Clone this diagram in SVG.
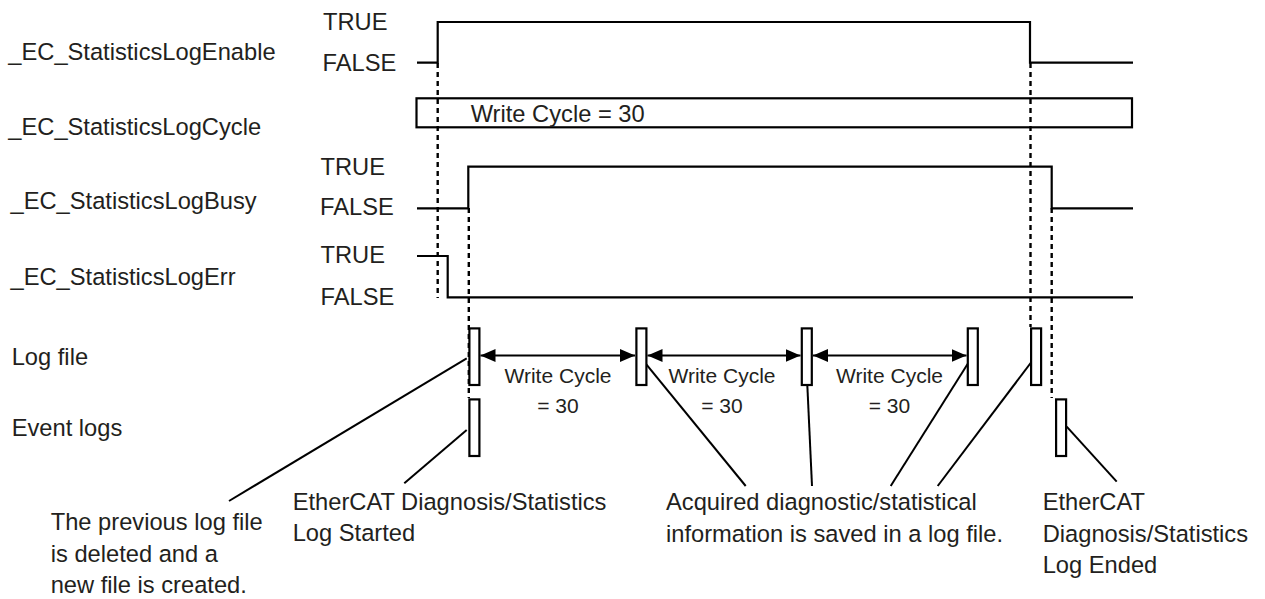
<svg xmlns="http://www.w3.org/2000/svg" width="1265" height="599" viewBox="0 0 1265 599">
<style>
text{font-family:"Liberation Sans",Arial,sans-serif;font-size:23.7px;fill:#231f20}
.sm{font-size:21px}
.sig{fill:none;stroke:#000;stroke-width:2.2}
.box{fill:#fff;stroke:#000;stroke-width:2.2}
.dash{fill:none;stroke:#000;stroke-width:2.4;stroke-dasharray:5 4}
.lead{fill:none;stroke:#000;stroke-width:2}
.arr{fill:none;stroke:#000;stroke-width:2.2;marker-start:url(#ah);marker-end:url(#ah)}
</style>
<defs>
<marker id="ah" markerUnits="userSpaceOnUse" markerWidth="16" markerHeight="14" refX="15" refY="6.5" orient="auto-start-reverse">
<path d="M0,0 L15,6.5 L0,13 z" fill="#000"/>
</marker>
</defs>
<rect width="1265" height="599" fill="#fff"/>
<g id="labels">
<text x="8.3" y="60">_EC_StatisticsLogEnable</text>
<text x="8.3" y="135">_EC_StatisticsLogCycle</text>
<text x="10.5" y="208.5">_EC_StatisticsLogBusy</text>
<text x="10.5" y="285">_EC_StatisticsLogErr</text>
<text x="11.7" y="365">Log file</text>
<text x="11.7" y="436">Event logs</text>
</g>
<g id="enable">
<text x="323" y="30">TRUE</text>
<text x="322.5" y="70.5">FALSE</text>
<path class="sig" d="M417,62.7 H437.7 V22 H1030 V62.7 H1133"/>
</g>
<g id="cycle">
<rect class="sig" x="416.5" y="98.3" width="715.5" height="29"/>
<text x="470.7" y="121.5">Write Cycle = 30</text>
</g>
<g id="busy">
<text x="320.5" y="175">TRUE</text>
<text x="320" y="215">FALSE</text>
<path class="sig" d="M417,208.3 H468.3 V166.7 H1051.7 V208.3 H1133"/>
</g>
<g id="err">
<text x="320.5" y="262.7">TRUE</text>
<text x="320.5" y="305">FALSE</text>
<path class="sig" d="M417,256 H447.7 V297.3 H1133"/>
</g>
<g id="connectors">
<path class="dash" d="M437.7,63 V298"/>
<path class="dash" d="M468.8,208 V398"/>
<path class="dash" d="M1030.5,63 V327"/>
<path class="dash" d="M1051.7,208 V398"/>
<path class="arr" d="M480.5,355.5 H635"/>
<path class="arr" d="M647.5,355.5 H800.5"/>
<path class="arr" d="M813,355.5 H966.5"/>
<path class="lead" d="M466.7,358.3 L229,501"/>
<path class="lead" d="M466.7,430 L404.3,483.3"/>
<path class="lead" d="M640,356.7 L745.7,486"/>
<path class="lead" d="M806,356.7 L812,486"/>
<path class="lead" d="M973.3,355 L890.7,486"/>
<path class="lead" d="M1036.7,355 L937.7,486"/>
<path class="lead" d="M1066.7,426.7 L1116.7,481.7"/>
</g>
<g id="logfile">
<rect class="box" x="469.4" y="328.4" width="10" height="56.6" fill-opacity="0"/>
<rect class="box" x="636.4" y="328.4" width="10" height="56.6"/>
<rect class="box" x="801.8" y="328.4" width="10" height="56.6"/>
<rect class="box" x="967.8" y="328.4" width="10" height="56.6"/>
<rect class="box" x="1031.1" y="328.4" width="10" height="56.6"/>
</g>
<g id="eventlogs">
<rect class="box" x="469.4" y="399.4" width="10" height="56.6"/>
<rect class="box" x="1056.1" y="399.4" width="10" height="56.6"/>
</g>
<g id="cycle-labels">
<text class="sm" x="558" y="383.3" text-anchor="middle">Write Cycle</text>
<text class="sm" x="558" y="412.7" text-anchor="middle">= 30</text>
<text class="sm" x="722" y="383.3" text-anchor="middle">Write Cycle</text>
<text class="sm" x="722" y="412.7" text-anchor="middle">= 30</text>
<text class="sm" x="889.5" y="383.3" text-anchor="middle">Write Cycle</text>
<text class="sm" x="889.5" y="412.7" text-anchor="middle">= 30</text>
</g>
<g id="note-deleted">
<text x="50.7" y="530">The previous log file</text>
<text x="50.7" y="561.7">is deleted and a</text>
<text x="50.7" y="593.3">new file is created.</text>
</g>
<g id="note-started">
<text x="292.7" y="510">EtherCAT Diagnosis/Statistics</text>
<text x="292.7" y="541.3">Log Started</text>
</g>
<g id="note-saved">
<text x="666" y="510.3">Acquired diagnostic/statistical</text>
<text x="666" y="541.7">information is saved in a log file.</text>
</g>
<g id="note-ended">
<text x="1042.7" y="510">EtherCAT</text>
<text x="1042.7" y="541.7">Diagnosis/Statistics</text>
<text x="1042.7" y="573.3">Log Ended</text>
</g>
</svg>
